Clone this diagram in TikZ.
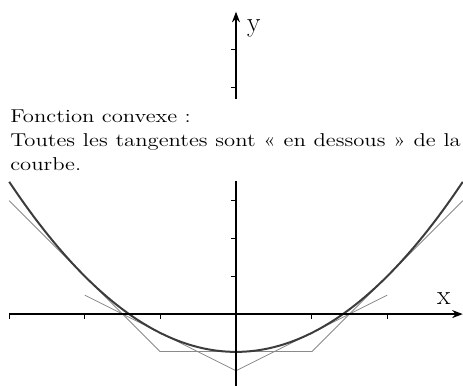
\documentclass[tikz,border=0pt]{standalone}
\usepackage{tikz}
\usetikzlibrary{arrows.meta}
\definecolor{curveA}{HTML}{3C3C3C}
\definecolor{tanA}{HTML}{8A8A8A}
\tikzset{
  axisline/.style={line width=1.2pt, -{Stealth[length=8pt, width=6pt]}},
  tickmark/.style={line width=0.6pt},
  curve/.style={draw=curveA, line width=1.5pt},
  tangent/.style={draw=tanA, line width=0.6pt},
  lbl/.style={font=\huge, inner sep=0pt},
  note/.style={
    fill=white, text width=278pt, align=justify,
    inner xsep=6.15pt, inner ysep=8pt,
    xscale=1.22, transform shape,
    font=\fontsize{14}{18}\selectfont
  }
}

\begin{document}
\begin{tikzpicture}[x=2cm, y=1cm]
  \useasboundingbox (-3.122,-1.878) rectangle (3.003,8.31);
  % tangents at -2,...,2
  \foreach \a in {-2,...,2}
    \draw[tangent] ({\a-1},{\a*\a/2-1-\a}) -- ({\a+1},{\a*\a/2-1+\a});
  % the curve
  \draw[curve] plot[domain=-3:3, samples=120, smooth] (\x,{\x*\x/2-1});
  % axes
  \coordinate (xmin) at (-3,0);
  \coordinate (xmax) at (3,0);
  \coordinate (ymin) at (0,-2);
  \coordinate (ymax) at (0,8);
  \foreach \i in {-3,-2,-1,1,2}
    \draw[tickmark] (\i,0) -- ++(0,-3.4pt);
  \foreach \j in {1,...,7}
    \draw[tickmark] (0,\j) -- ++(-4pt,0);
  \draw[axisline] (xmin) -- (xmax);
  \draw[axisline] (ymin) -- (ymax);
  \node[lbl, anchor=south] (xlab) at (2.75,0.24) {x};
  \node[lbl, anchor=base west] (ylab) at (0.145,7.47) {y};
  % text over the y axis
  \coordinate (notecorner) at (-3.122,5.688);
  \node[note, anchor=north west] (note) at (notecorner)
    {Fonction convexe :\\
     Toutes les tangentes sont «~en dessous~» de la courbe.};
\end{tikzpicture}
\end{document}
